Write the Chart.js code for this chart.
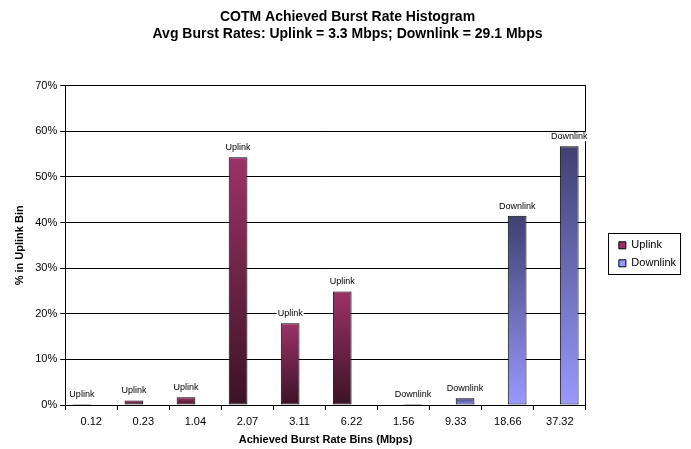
<!DOCTYPE html>
<html>
<head>
<meta charset="utf-8">
<script src="https://cdn.jsdelivr.net/npm/chart.js@4"></script>
<style>
  html, body { margin: 0; padding: 0; background: #fff; }
  #wrap { width: 691px; height: 449px; }
</style>
</head>
<body>
<div id="wrap"><canvas id="chart"></canvas></div>
<script>
const binLabels = ['0.12', '0.23', '1.04', '2.07', '3.11', '6.22', '1.56', '9.33', '18.66', '37.32'];
const uplinkPct = [0.2, 1.0, 1.7, 54.3, 17.9, 24.9, null, null, null, null];
const downlinkPct = [null, null, null, null, null, null, 0.2, 1.5, 41.5, 56.7];
const yTicks = [0, 10, 20, 30, 40, 50, 60, 70];

function barGradient(top, bottom) {
    return function (c) {
        const chart = c.chart;
        if (!chart.chartArea || c.raw == null) return top;
        const y = chart.scales.y;
        const y0 = y.getPixelForValue(c.raw);
        const y1 = y.getPixelForValue(0);
        const g = chart.ctx.createLinearGradient(0, y0, 0, y1 + 0.01);
        g.addColorStop(0, top);
        g.addColorStop(1, bottom);
        return g;
    };
}

// series name above each bar, white box behind text
const barNames = {
    id: 'barNames',
    afterDatasetsDraw(chart) {
        const ctx = chart.ctx;
        ctx.save();
        ctx.font = '9px "Liberation Sans", Arial, sans-serif';
        ctx.textAlign = 'center';
        ctx.textBaseline = 'bottom';
        chart.data.datasets.forEach((ds, i) => {
            chart.getDatasetMeta(i).data.forEach((bar, j) => {
                if (ds.data[j] == null) return;
                const w = ctx.measureText(ds.label).width;
                const ty = bar.y - 5;
                ctx.fillStyle = '#fff';
                ctx.fillRect(bar.x - w / 2 - 1, ty - 9, w + 2, 9);
                ctx.fillStyle = '#000';
                ctx.fillText(ds.label, bar.x, ty);
            });
        });
        ctx.restore();
    }
};

// nudge the legend down a little and box it in
const legendBox = {
    id: 'legendBox',
    afterLayout(chart) {
        const lg = chart.legend;
        lg.top += 9;
        lg.bottom += 9;
    },
    afterDraw(chart) {
        const ctx = chart.ctx;
        const hb = chart.legend.legendHitBoxes;
        if (!hb || !hb.length) return;
        let l = Infinity, t = Infinity, r = -Infinity, b = -Infinity;
        hb.forEach(h => {
            l = Math.min(l, h.left); t = Math.min(t, h.top);
            r = Math.max(r, h.left + h.width); b = Math.max(b, h.top + h.height);
        });
        ctx.save();
        ctx.strokeStyle = '#000';
        ctx.lineWidth = 1;
        ctx.strokeRect(Math.round(l - 11) + 0.5, Math.round(t - 7) + 0.5, Math.round(r - l + 15), Math.round(b - t + 12));
        ctx.restore();
    }
};

Chart.defaults.font.family = '"Liberation Sans", Arial, sans-serif';
Chart.defaults.color = '#000';

new Chart(document.getElementById('chart'), {
    type: 'bar',
    data: {
        labels: binLabels,
        datasets: [
            {
                label: 'Uplink',
                data: uplinkPct,
                backgroundColor: barGradient('#9b3367', '#3c1226'),
                borderColor: '#000',
                borderWidth: 1,
                borderSkipped: false
            },
            {
                label: 'Downlink',
                data: downlinkPct,
                backgroundColor: barGradient('#404070', '#9999ff'),
                borderColor: '#000',
                borderWidth: 1,
                borderSkipped: false
            }
        ]
    },
    options: {
        responsive: true,
        maintainAspectRatio: false,
        animation: false,
        layout: { padding: { top: 0, right: 5, bottom: 0, left: 9 } },
        datasets: {
            bar: { categoryPercentage: 0.72, barPercentage: 1.0 }
        },
        plugins: {
            title: {
                display: true,
                text: ['COTM Achieved Burst Rate Histogram', 'Avg Burst Rates: Uplink = 3.3 Mbps; Downlink = 29.1 Mbps'],
                font: { size: 14, weight: 'bold' },
                lineHeight: 1.2,
                padding: { top: 9, bottom: 43 }
            },
            legend: {
                position: 'right',
                fullSize: false,
                labels: {
                    boxWidth: 7,
                    boxHeight: 7,
                    padding: 7,
                    font: { size: 11 },
                    generateLabels(chart) {
                        const cols = ['#993366', '#9999ff'];
                        return chart.data.datasets.map((ds, i) => ({
                            text: ds.label,
                            fillStyle: cols[i],
                            strokeStyle: '#000',
                            lineWidth: 1,
                            datasetIndex: i
                        }));
                    }
                }
            },
            tooltip: { enabled: false }
        },
        scales: {
            x: {
                offset: true,
                grid: { display: true, offset: true, drawOnChartArea: false, color: '#000', tickLength: 5 },
                border: { color: '#000' },
                ticks: { font: { size: 11, lineHeight: 1 }, padding: 6 },
                title: {
                    display: true,
                    text: 'Achieved Burst Rate Bins (Mbps)',
                    font: { size: 11, weight: 'bold', lineHeight: 1 },
                    padding: { top: 1, bottom: 4 }
                }
            },
            y: {
                min: 0,
                max: 70,
                afterBuildTicks(axis) { axis.ticks = yTicks.map(v => ({ value: v })); },
                grid: { color: '#000', tickLength: 5 },
                border: { color: '#000' },
                ticks: { font: { size: 11 }, padding: 3, callback: v => v + '%' },
                title: { display: true, text: '% in Uplink Bin', font: { size: 11, weight: 'bold' }, padding: { bottom: 6 } }
            },
            // right edge of the plot frame
            yRight: {
                position: 'right',
                grid: { display: false },
                border: { color: '#000' },
                ticks: { display: false },
                afterFit(axis) { axis.width = 26; }
            }
        }
    },
    plugins: [barNames, legendBox]
});
</script>
</body>
</html>
